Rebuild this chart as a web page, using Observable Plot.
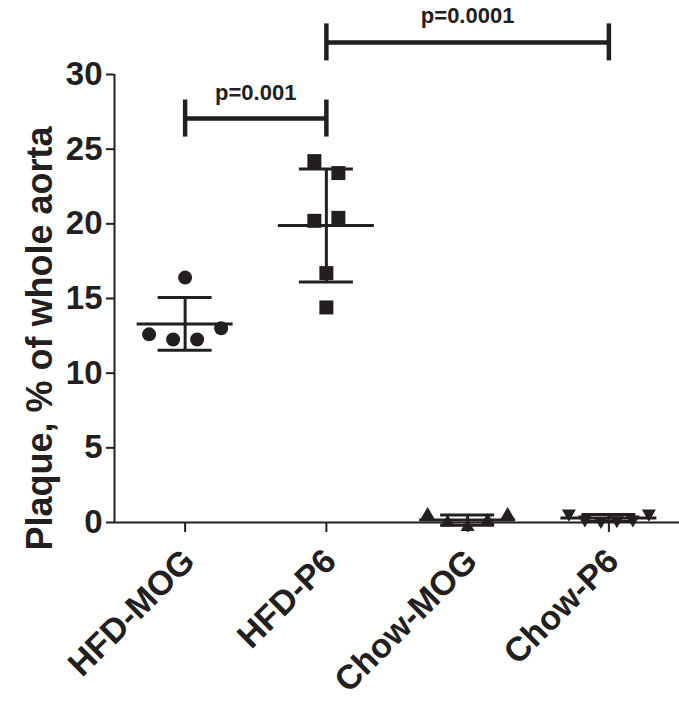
<!DOCTYPE html>
<html>
<head>
<meta charset="utf-8">
<script src="https://cdn.jsdelivr.net/npm/d3@7"></script>
<script src="https://cdn.jsdelivr.net/npm/@observablehq/plot@0.6"></script>
<style>
  html, body { margin: 0; padding: 0; background: #fff; }
</style>
</head>
<body>
<div id="chart"></div>
<script>
// ---- data ----
const categories = ["HFD-MOG", "HFD-P6", "Chow-MOG", "Chow-P6"];
const hfdMog  = [16.4, 12.6, 12.25, 12.25, 13.0];
const hfdP6   = [24.2, 23.4, 20.2, 20.4, 16.7, 14.4];
const chowMog = [0.5, 0.0, -0.3, 0.1, 0.5];
const chowP6  = [0.6, 0.2, 0.1, 0.15, 0.2, 0.6];
const yTicks  = [0, 5, 10, 15, 20, 25, 30];
const comparisons = [
  {from: "HFD-MOG", to: "HFD-P6", label: "p=0.001"},
  {from: "HFD-P6", to: "Chow-P6", label: "p=0.0001"}
];
const yTitle = "Plaque, % of whole aorta";

// ---- layout / style ----
const W = 679, H = 710, mL = 114, mR = 0, mT = 74, mB = 188;
const ink = "#231f20";
const pxPerUnit = (W - mL - mR) / categories.length;
const font = "'Liberation Sans', Arial, Helvetica, sans-serif";

// scatter spreading (GraphPad-like): near-equal values laid side by side
function offsets(values) {
  const order = d3.sort(d3.range(values.length), i => values[i]);
  const clusters = [];
  let cur = [order[0]];
  for (let k = 1; k < order.length; k++) {
    if (values[order[k]] - values[order[k - 1]] < 1) cur.push(order[k]);
    else { clusters.push(cur); cur = [order[k]]; }
  }
  clusters.push(cur);
  const off = new Array(values.length).fill(0);
  for (const c of clusters) {
    c.sort((a, b) => a - b);
    const n = c.length;
    const s = n > 1 ? Math.min(24, 80 / (n - 1)) : 0;
    c.forEach((i, k) => off[i] = (k - (n - 1) / 2) * s / pxPerUnit);
  }
  return off;
}

const groups = [hfdMog, hfdP6, chowMog, chowP6];
const points = groups.map((vals, gi) => {
  const off = offsets(vals);
  return vals.map((v, j) => ({g: gi, x: gi + off[j], y: v}));
});
const summary = groups.map((vals, gi) => ({
  i: gi, mean: d3.mean(vals), sd: d3.deviation(vals)
}));

const baseLevel = 27.05, levelStep = 5.1, capHalf = 1.24;
const brackets = comparisons.map((c, k) => ({
  x1: categories.indexOf(c.from),
  x2: categories.indexOf(c.to),
  level: baseLevel + k * levelStep,
  label: c.label
}));

const triangleDown = {
  draw(context, size) {
    const k = Math.sqrt(size / (3 * Math.sqrt(3)));
    context.moveTo(0, 2 * k);
    context.lineTo(-Math.sqrt(3) * k, -k);
    context.lineTo(Math.sqrt(3) * k, -k);
    context.closePath();
  }
};

const meanHalf = 48 / pxPerUnit, sdHalf = 27 / pxPerUnit;

const chart = Plot.plot({
  width: W, height: H,
  marginLeft: mL, marginRight: mR, marginTop: mT, marginBottom: mB,
  x: {domain: [-0.5, categories.length - 0.5], axis: null},
  y: {domain: [0, 30], axis: null},
  style: {fontFamily: font, color: ink, background: "#fff", overflow: "visible"},
  marks: [
    // axes
    Plot.axisY({ticks: yTicks, tickSize: 8, tickPadding: 4, fontSize: 33, fontWeight: "bold",
      label: null, strokeWidth: 2, stroke: ink, fill: ink}),
    Plot.axisX({ticks: d3.range(categories.length), tickSize: 10, tickFormat: () => "",
      label: null, strokeWidth: 2, stroke: ink}),
    Plot.ruleX([-0.5], {y1: 0, y2: 30, stroke: ink, strokeWidth: 2}),
    Plot.ruleY([0], {stroke: ink, strokeWidth: 2}),
    // category labels
    Plot.text(categories, {x: (d, i) => i, y: 0, text: d => d, rotate: -45,
      textAnchor: "end", lineAnchor: "middle", dx: 4, dy: 33,
      fontSize: 34, fontWeight: "bold", fill: ink}),
    // y title
    Plot.text([yTitle], {frameAnchor: "left", text: d => d, rotate: -90, dx: -74, dy: 40,
      textAnchor: "middle", lineAnchor: "middle",
      fontSize: 36, fontWeight: "bold", fill: ink}),
    // mean and SD
    Plot.ruleX(summary, {x: "i", y1: d => d.mean - d.sd, y2: d => d.mean + d.sd, stroke: ink, strokeWidth: 3}),
    Plot.ruleY(summary, {y: d => d.mean + d.sd, x1: d => d.i - sdHalf, x2: d => d.i + sdHalf, stroke: ink, strokeWidth: 3}),
    Plot.ruleY(summary, {y: d => d.mean - d.sd, x1: d => d.i - sdHalf, x2: d => d.i + sdHalf, stroke: ink, strokeWidth: 3}),
    Plot.ruleY(summary, {y: "mean", x1: d => d.i - meanHalf, x2: d => d.i + meanHalf, stroke: ink, strokeWidth: 3}),
    // points
    Plot.dot(points[0], {x: "x", y: "y", symbol: "circle", r: 7, fill: ink}),
    Plot.dot(points[1], {x: "x", y: "y", symbol: "square", r: 7.9, fill: ink}),
    Plot.dot(points[2], {x: "x", y: "y", symbol: "triangle", r: 5.2, fill: ink}),
    Plot.dot(points[3], {x: "x", y: "y", symbol: triangleDown, r: 5.2, fill: ink}),
    // significance brackets
    Plot.ruleY(brackets, {y: "level", x1: "x1", x2: "x2", stroke: ink, strokeWidth: 4.5}),
    Plot.ruleX(brackets, {x: "x1", y1: d => d.level - capHalf, y2: d => d.level + capHalf, stroke: ink, strokeWidth: 4.5}),
    Plot.ruleX(brackets, {x: "x2", y1: d => d.level - capHalf, y2: d => d.level + capHalf, stroke: ink, strokeWidth: 4.5}),
    Plot.text(brackets, {x: d => (d.x1 + d.x2) / 2, y: "level", text: "label", dy: -26,
      fontSize: 22, fontWeight: "bold", fill: ink})
  ]
});
document.getElementById("chart").appendChild(chart);
</script>
</body>
</html>
